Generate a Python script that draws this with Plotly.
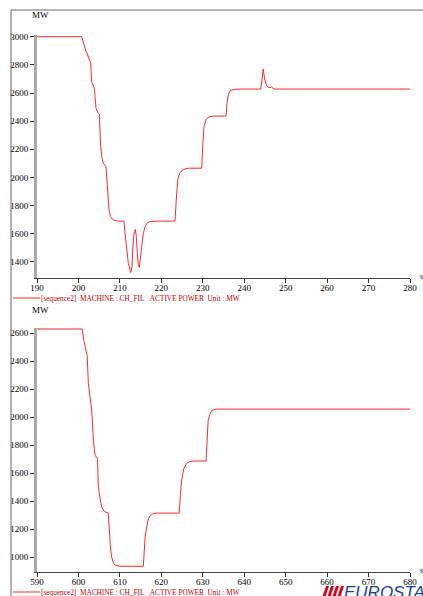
import plotly.graph_objects as go

# ---- data ----
t_top = [190, 200.78, 201.58, 201.99, 202.63, 202.95, 203.19, 203.59, 203.83, 204.24, 204.64,
         205.04, 205.36, 205.69, 206.01, 206.65, 207.05, 207.37, 207.78, 208.42, 209.63, 210.99,
         211.24, 211.64, 212.04, 212.6, 212.92, 213.09, 213.41, 213.73, 213.97, 214.21, 214.45,
         214.69, 214.94, 215.26, 215.66, 216.06, 216.62, 217.27, 218.88, 223.3, 223.7, 224.02,
         224.5, 225.31, 226.5, 229.74, 229.98, 230.3, 230.78, 231.34, 232.55, 235.61, 235.85,
         236.17, 236.57, 237.38, 238.99, 244.0, 244.3, 244.6, 244.9, 245.4, 246.0, 246.6, 247.2, 280]
p_top = [3000, 3000, 2919, 2884, 2836, 2813, 2682, 2646, 2635, 2492, 2461, 2450, 2219, 2136, 2101,
         2077, 1887, 1769, 1721, 1698, 1690, 1690, 1603, 1484, 1389, 1325, 1365, 1484, 1603, 1631,
         1579, 1460, 1377, 1361, 1413, 1508, 1603, 1650, 1678, 1686, 1690, 1690, 1887, 1994, 2034,
         2058, 2066, 2066, 2219, 2362, 2409, 2428, 2436, 2436, 2528, 2587, 2616, 2625, 2628, 2628,
         2700, 2770, 2700, 2651, 2638, 2642, 2628, 2628]

t_bot = [590, 600.9, 601.3, 601.8, 602.1, 602.4, 602.8, 603.2, 603.6, 604.0, 604.6, 604.8, 605.2,
         605.6, 606.0, 606.4, 607.2, 607.4, 607.7, 608.0, 608.4, 608.8, 609.4, 610.0, 615.65, 615.9,
         616.1, 616.5, 616.9, 617.4, 618.1, 619, 624.3, 624.6, 624.9, 625.4, 626.1, 626.8, 627.7,
         630.8, 631.05, 631.3, 631.7, 632.2, 632.8, 633.4, 680]
p_bot = [2631, 2631, 2548, 2477, 2441, 2239, 2144, 2049, 1835, 1728, 1704, 1502, 1420, 1359, 1335,
         1323, 1316, 1169, 1080, 1002, 960, 943, 937, 934, 934, 1030, 1145, 1220, 1276, 1298, 1312,
         1314, 1314, 1440, 1549, 1630, 1670, 1682, 1687, 1687, 1850, 1977, 2020, 2049, 2055, 2058, 2058]

x_ticks_top = [190, 200, 210, 220, 230, 240, 250, 260, 270, 280]
y_ticks_top = [1400, 1600, 1800, 2000, 2200, 2400, 2600, 2800, 3000]
x_ticks_bot = [590, 600, 610, 620, 630, 640, 650, 660, 670, 680]
y_ticks_bot = [1000, 1200, 1400, 1600, 1800, 2000, 2200, 2400, 2600]

legend_text = "[sequence2]\u00a0\u00a0MACHINE : CH_FIL\u00a0\u00a0\u00a0ACTIVE POWER\u00a0\u00a0Unit : MW"

W, H = 423, 596
def px(x):
    return x / W
def py(y):
    return 1 - y / H

FONT = "Liberation Serif"
LINE = "#ff2a2a"

fig = go.Figure()
fig.add_trace(go.Scatter(x=t_top, y=p_top, mode="lines", line=dict(color=LINE, width=1),
                         xaxis="x", yaxis="y", showlegend=False))
fig.add_trace(go.Scatter(x=t_bot, y=p_bot, mode="lines", line=dict(color=LINE, width=1),
                         xaxis="x2", yaxis="y2", showlegend=False))

xcommon = dict(showgrid=False, zeroline=False, showline=True, linecolor="#444", linewidth=1,
               ticks="outside", ticklen=4, tickwidth=1, tickcolor="#333", automargin=False,
               ticklabelstandoff=-3,
               tickfont=dict(family=FONT, size=9, color="black"))
ycommon = dict(showgrid=False, zeroline=False, showline=True, linecolor="#aaaaaa", linewidth=3,
               ticks="outside", ticklen=4, tickwidth=1, tickcolor="#333", automargin=False,
               tickfont=dict(family=FONT, size=9, color="black"))

fig.update_layout(
    width=W, height=H,
    margin=dict(l=0, r=0, t=0, b=0, autoexpand=False),
    paper_bgcolor="white", plot_bgcolor="white",
    xaxis=dict(domain=[px(37), px(410)], range=[190, 280], tickvals=x_ticks_top,
               anchor="y", **xcommon),
    yaxis=dict(domain=[py(278), py(35)], range=[1286, 3012], tickvals=y_ticks_top,
               anchor="x", **ycommon),
    xaxis2=dict(domain=[px(37), px(410)], range=[590, 680], tickvals=x_ticks_bot,
                anchor="y2", **xcommon),
    yaxis2=dict(domain=[py(572), py(328)], range=[893, 2638], tickvals=y_ticks_bot,
                anchor="x2", **ycommon),
)

shapes = []
# outer frame (left and top)
shapes.append(dict(type="line", xref="paper", yref="paper", x0=px(11), x1=px(11), y0=0, y1=py(10),
                   line=dict(color="#666", width=1)))
shapes.append(dict(type="line", xref="paper", yref="paper", x0=px(11), x1=1, y0=py(10), y1=py(10),
                   line=dict(color="#666", width=1)))
# legend sample lines
for yy in (298, 592):
    shapes.append(dict(type="line", xref="paper", yref="paper", x0=px(13), x1=px(40),
                       y0=py(yy), y1=py(yy), line=dict(color=LINE, width=1)))
# logo stripes
for i in range(4):
    x0 = 322 + i * 5
    path = "M {a},{b} L {c},{b} L {d},{e} L {f},{e} Z".format(
        a=px(x0 + 4), b=py(586), c=px(x0 + 7), d=px(x0 + 3), e=py(598), f=px(x0))
    shapes.append(dict(type="path", xref="paper", yref="paper", path=path,
                       fillcolor="#e0001b", line=dict(width=0)))
fig.update_layout(shapes=shapes)

ann = []
for yy in (15.5, 309.5):
    ann.append(dict(text="MW", x=px(30), y=py(yy), xref="paper", yref="paper", xanchor="left",
                    yanchor="middle", showarrow=False, font=dict(family=FONT, size=9, color="black")))
for yy in (298, 592):
    ann.append(dict(text=legend_text, x=px(39), y=py(yy), xref="paper", yref="paper",
                    xanchor="left", yanchor="middle", showarrow=False,
                    font=dict(family=FONT, size=7.3, color="#c00000")))
for yy in (276, 570):
    ann.append(dict(text="s", x=px(418), y=py(yy), xref="paper", yref="paper", xanchor="left",
                    yanchor="middle", showarrow=False, font=dict(family=FONT, size=8, color="black")))
ann.append(dict(text="EUROSTAG", x=px(342), y=py(581), xref="paper", yref="paper",
                xanchor="left", yanchor="top", showarrow=False,
                font=dict(family="Liberation Sans", size=17, color="#1b3fa0", style="italic")))
fig.update_layout(annotations=ann)

fig.write_html("out.html", config={"displayModeBar": False},
               post_script="document.body.style.margin='0';document.body.style.overflow='hidden';")
